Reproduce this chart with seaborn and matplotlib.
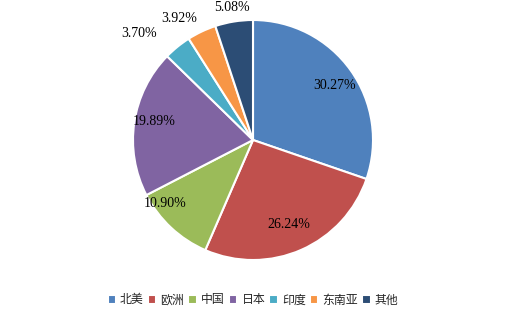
import numpy as np
import matplotlib
matplotlib.use("Agg")
import matplotlib.pyplot as plt
import seaborn as sns

regions = ["北美", "欧洲", "中国", "日本", "印度", "东南亚", "其他"]
shares = [30.27, 26.24, 10.90, 19.89, 3.70, 3.92, 5.08]
colors_hex = ["#4F81BD", "#C0504D", "#9BBB59", "#8064A2", "#4BACC6", "#F79646", "#2C4D75"]

sns.set_theme(style="white")
plt.rcParams['font.family'] = ['Noto Sans CJK SC', 'DejaVu Sans']
palette = sns.color_palette(colors_hex)

W, H = 519, 313
fig = plt.figure(figsize=(W / 100, H / 100), dpi=100)
cx, cy, r = 253, 140, 120
ax = fig.add_axes([(cx - r) / W, (H - cy - r) / H, 2 * r / W, 2 * r / H])

wedges, _ = ax.pie(shares, colors=palette, startangle=90, counterclock=False,
                   wedgeprops=dict(edgecolor="white", linewidth=1.5), radius=1)
ax.set_xlim(-1, 1)
ax.set_ylim(-1, 1)
ax.set_aspect("equal")
ax.axis("off")

# label placement (distance factor, angle offset in degrees) per slice
place = [(0.82, -2), (0.76, -1), (0.90, -11), (0.84, -2), (1.30, 8), (1.19, 6), (1.12, 0)]
for w, v, (d, off) in zip(wedges, shares, place):
    ang = np.deg2rad((w.theta1 + w.theta2) / 2 + off)
    ax.text(d * np.cos(ang), d * np.sin(ang), f"{v:.2f}%", ha="center", va="center",
            fontsize=10, family=["Liberation Serif"], color="black")

leg = fig.legend(wedges, regions, loc="center", bbox_to_anchor=(253 / W, 1 - 300 / H),
                 ncol=7, frameon=False, fontsize=8.6, handlelength=0.7, handleheight=0.7,
                 handletextpad=0.35, columnspacing=0.35)
fig.savefig("out.png", dpi=100)
